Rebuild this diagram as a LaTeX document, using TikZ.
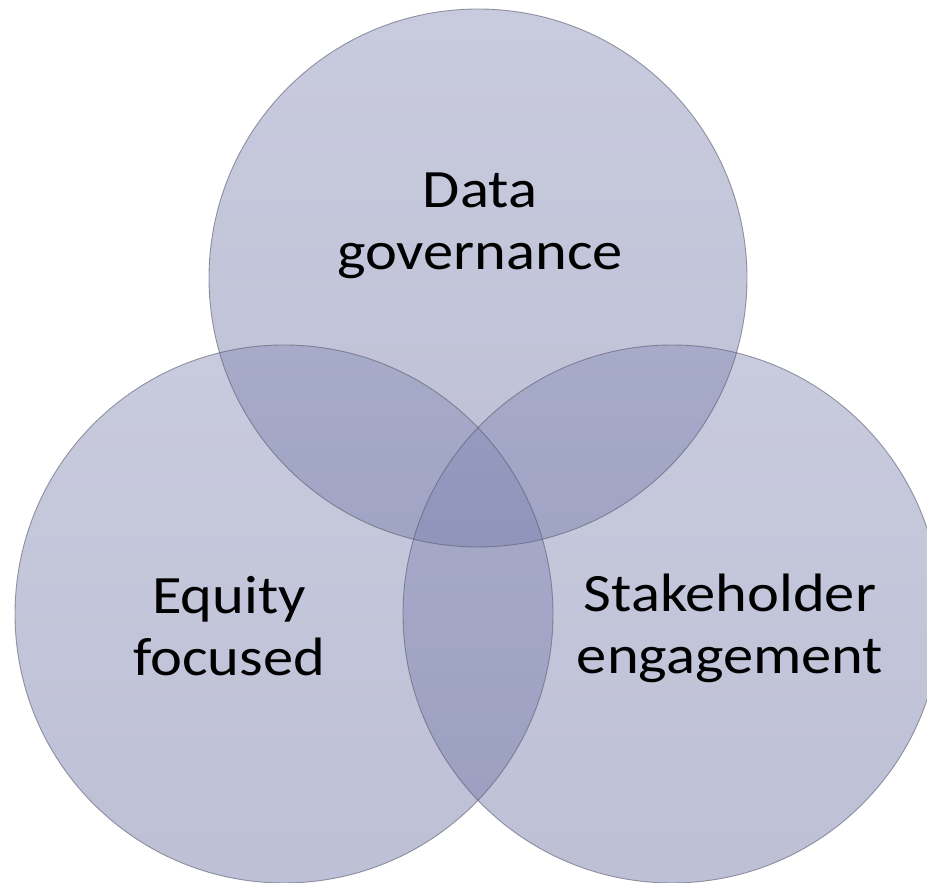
\documentclass[tikz,border=0pt]{standalone}
\usepackage{fontspec}
\setmainfont{Carlito}[FakeStretch=1.12]
\definecolor{vtop}{RGB}{136,140,182}
\definecolor{vbot}{RGB}{112,117,165}
\definecolor{vline}{RGB}{90,92,110}
\begin{document}
\begin{tikzpicture}[x=1pt,y=1pt,
  venn/.style={top color=vtop,bottom color=vbot,fill opacity=0.46},
  vennline/.style={draw=vline,draw opacity=0.6,line width=0.9pt},
  lbl/.style={align=center,anchor=base,text=black,font=\fontsize{54}{62.5}\selectfont,inner sep=0pt}]
\useasboundingbox (0,0) rectangle (927,883);
\coordinate (ct) at (478,605);
\coordinate (cl) at (284,269);
\coordinate (cr) at (672,269);
\shade[venn] (ct) circle (269);
\shade[venn] (cl) circle (269);
\shade[venn] (cr) circle (269);
\draw[vennline] (ct) circle (269);
\draw[vennline] (cl) circle (269);
\draw[vennline] (cr) circle (269);
\node[lbl] (dg) at (480,613) {Data\\governance};
\node[lbl] (ef) at (229,207) {Equity\\focused};
\node[lbl] (se) at (730,209) {Stakeholder\\engagement};
\end{tikzpicture}
\end{document}
